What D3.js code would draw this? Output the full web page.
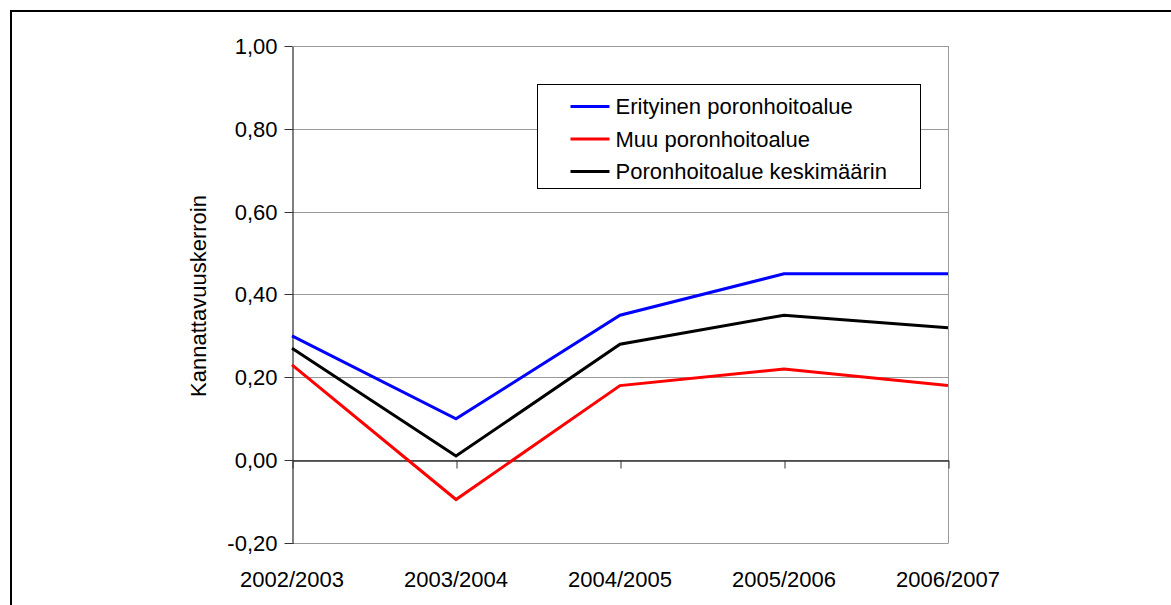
<!DOCTYPE html>
<html>
<head>
<meta charset="utf-8">
<script src="https://cdn.jsdelivr.net/npm/d3@7"></script>
<style>
  body { margin: 0; background: #fff; }
  svg { display: block; font-family: 'Liberation Sans', Arial, sans-serif; }
</style>
</head>
<body>
<div class="chart"></div>
<script>
const width = 1171;
const height = 605;

const seasons = ['2002/2003', '2003/2004', '2004/2005', '2005/2006', '2006/2007'];
const erityinen = [0.30, 0.10, 0.35, 0.45, 0.45];
const muu = [0.23, -0.095, 0.18, 0.22, 0.18];
const keskimaarin = [0.27, 0.01, 0.28, 0.35, 0.32];
const yTicks = [-0.2, 0, 0.2, 0.4, 0.6, 0.8, 1.0];

const series = [
  { name: 'Erityinen poronhoitoalue', values: erityinen, color: '#0000ff' },
  { name: 'Muu poronhoitoalue', values: muu, color: '#ff0000' },
  { name: 'Poronhoitoalue keskimäärin', values: keskimaarin, color: '#000000' },
];

const plot = { left: 292, right: 948, top: 46, bottom: 543 };

const svg = d3
  .select('div.chart')
  .append('svg')
  .attr('width', width)
  .attr('height', height);

// outer frame (runs off the right and bottom edge)
svg
  .append('rect')
  .attr('x', 11)
  .attr('y', 11)
  .attr('width', width + 20)
  .attr('height', height + 20)
  .attr('fill', 'none')
  .attr('stroke', '#000')
  .attr('stroke-width', 2);

const x = d3
  .scalePoint()
  .domain(seasons)
  .range([plot.left, plot.right]);

const y = d3
  .scaleLinear()
  .domain([-0.2, 1.0])
  .range([plot.bottom, plot.top]);

const fmt = (d) => d3.format('.2f')(d).replace('.', ',').replace('−', '-');

// gridlines
svg
  .append('g')
  .selectAll('line')
  .data(yTicks)
  .enter()
  .append('line')
  .attr('x1', plot.left)
  .attr('x2', plot.right)
  .attr('y1', (d) => Math.round(y(d)) + 0.5)
  .attr('y2', (d) => Math.round(y(d)) + 0.5)
  .attr('stroke', '#999')
  .attr('stroke-width', 1);

// plot area right edge
svg
  .append('line')
  .attr('x1', plot.right + 0.5)
  .attr('x2', plot.right + 0.5)
  .attr('y1', plot.top)
  .attr('y2', plot.bottom + 0.5)
  .attr('stroke', '#999');

// y axis
const yAxis = svg
  .append('g')
  .attr('transform', `translate(${plot.left + 0.5},0.5)`)
  .call(
    d3
      .axisLeft(y)
      .tickValues(yTicks)
      .tickFormat(fmt)
      .tickSize(8)
      .tickSizeOuter(0)
      .tickPadding(7)
  );
yAxis.select('.domain').attr('stroke', '#000');
yAxis.selectAll('.tick line').attr('stroke', '#333');
yAxis
  .selectAll('text')
  .attr('font-size', 22)
  .attr('font-family', 'Liberation Sans, Arial, sans-serif')
  .attr('fill', '#000');
yAxis.selectAll('.tick').attr('transform', (d) => `translate(0,${Math.round(y(d))})`);

// x axis along zero
const xAxis = svg
  .append('g')
  .attr('transform', `translate(0.5,${Math.round(y(0)) + 0.5})`)
  .call(d3.axisBottom(x).tickSize(8).tickSizeOuter(0).tickFormat(() => ''));
xAxis.select('.domain').attr('stroke', '#333').attr('stroke-width', 1.5);
xAxis.selectAll('.tick line').attr('stroke', '#333');

// category labels at bottom
svg
  .append('g')
  .selectAll('text')
  .data(seasons)
  .enter()
  .append('text')
  .attr('x', (d) => x(d))
  .attr('y', 587)
  .attr('text-anchor', 'middle')
  .attr('font-size', 22)
  .text((d) => d);

// y title
svg
  .append('text')
  .attr('transform', `translate(206,296) rotate(-90)`)
  .attr('text-anchor', 'middle')
  .attr('font-size', 22)
  .text('Kannattavuuskerroin');

// series lines
const line = d3
  .line()
  .x((d, i) => x(seasons[i]))
  .y((d) => y(d));

svg
  .append('g')
  .selectAll('path')
  .data(series)
  .enter()
  .append('path')
  .attr('d', (d) => line(d.values))
  .attr('fill', 'none')
  .attr('stroke', (d) => d.color)
  .attr('stroke-width', 3)
  .attr('stroke-linejoin', 'miter');

// legend
const legend = svg.append('g').attr('transform', 'translate(537.5,84.5)');
legend
  .append('rect')
  .attr('width', 383)
  .attr('height', 104)
  .attr('fill', '#fff')
  .attr('stroke', '#000');

const items = legend
  .selectAll('g.item')
  .data(series)
  .enter()
  .append('g')
  .attr('class', 'item')
  .attr('transform', (d, i) => `translate(0,${22 + i * 32.5})`);

items
  .append('line')
  .attr('x1', 33)
  .attr('x2', 72)
  .attr('stroke', (d) => d.color)
  .attr('stroke-width', 3);

items
  .append('text')
  .attr('x', 78)
  .attr('dy', '0.35em')
  .attr('font-size', 22)
  .text((d) => d.name);
</script>
</body>
</html>
